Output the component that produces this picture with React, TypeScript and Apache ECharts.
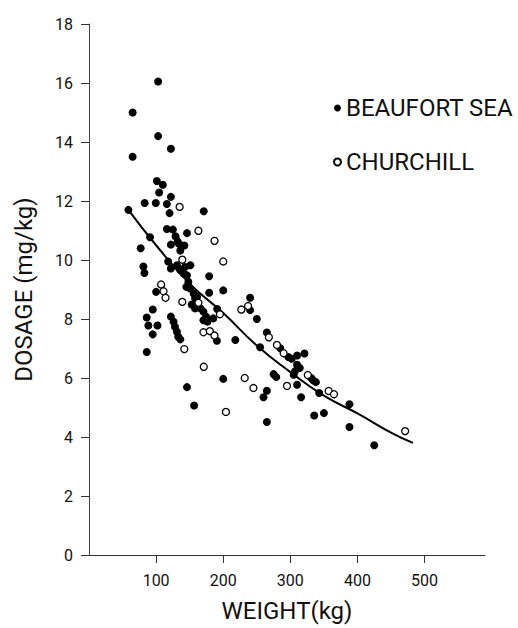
import React, { useEffect, useRef } from "react";
import * as echarts from "echarts";

const yTicks = [0, 2, 4, 6, 8, 10, 12, 14, 16, 18];
const xTicks = [100, 200, 300, 400, 500];

const beaufortSea: number[][] = [
  [103, 16.05], [65, 15.0], [103, 14.2], [122, 13.77], [65, 13.5],
  [101, 12.68], [110, 12.55], [104.5, 12.29], [122, 12.14], [83, 11.93],
  [99.5, 11.93], [116, 11.9], [120, 11.59], [171, 11.65], [58.7, 11.7],
  [116, 11.05], [125, 11.03], [146, 10.91], [91, 10.77], [129, 10.8],
  [132, 10.63], [77, 10.4], [122, 10.52], [134, 10.55], [142, 10.49],
  [136, 10.32], [81, 9.78], [82.6, 9.56], [118, 9.95], [122, 9.71],
  [131, 9.82], [136, 9.65], [143, 9.76], [151, 9.82], [141, 9.54],
  [146, 9.48], [148, 9.26], [145, 9.09], [179, 9.45], [200, 8.97],
  [179, 8.89], [100, 8.92], [151, 9.03], [156, 8.86], [158, 8.7],
  [161, 8.75], [153, 8.49], [158, 8.36], [166, 8.36], [170.5, 8.25],
  [174.5, 8.08], [176.5, 7.91], [170.5, 7.96], [191, 8.34], [185, 8.02],
  [218, 7.29], [95, 8.32], [86, 8.05], [88.5, 7.78], [102, 7.78],
  [95, 7.48], [122, 8.08], [126, 7.91], [128, 7.74], [131, 7.57],
  [133, 7.4], [136, 7.31], [190.5, 7.26], [86, 6.88], [200, 5.97],
  [146, 5.69], [156.6, 5.07], [240, 8.72], [240, 8.3], [250, 8.0],
  [265, 7.54], [255, 7.04], [285, 7.01], [297, 6.71], [302, 6.65],
  [310, 6.76], [321, 6.83], [310, 6.45], [314, 6.34], [307, 6.23],
  [305, 6.11], [275, 6.13], [279, 6.03], [310, 5.77], [331, 6.0],
  [334, 5.92], [338, 5.86], [265, 5.57], [260, 5.35], [316, 5.35],
  [343, 5.49], [388, 5.11], [335.5, 4.73], [350, 4.81], [265, 4.51],
  [388, 4.34], [425, 3.72],
];

const churchill: number[][] = [
  [135, 11.8], [163, 10.99], [187, 10.65], [200, 9.95], [139, 10.01],
  [107.5, 9.17], [111, 8.94], [114, 8.72], [139, 8.58], [163, 8.55],
  [195, 8.16], [170.5, 7.55], [180, 7.59], [187, 7.44], [142, 6.98],
  [171, 6.38], [204, 4.85], [227, 8.32], [237, 8.44], [268, 7.38],
  [280, 7.12], [290, 6.84], [326, 6.1], [232, 6.0], [245, 5.66],
  [295, 5.73], [357, 5.56], [365, 5.45], [471, 4.2],
];

const curveX = [58.7, 100, 150, 200, 250, 300, 350, 400, 450, 482.6];
const curveY = [11.7, 10.5, 9.2, 8.2, 7.1, 6.2, 5.4, 4.8, 4.15, 3.8];

const FONT = "Roboto, 'Liberation Sans', sans-serif";

export default function App() {
  const ref = useRef<HTMLDivElement>(null);
  useEffect(() => {
    if (!ref.current) return;
    const chart = echarts.init(ref.current, null, { renderer: "svg" });
    chart.setOption({
      animation: false,
      backgroundColor: "#ffffff",
      textStyle: { fontFamily: FONT },
      grid: { left: 89, right: 33, top: 24, bottom: 70 },
      legend: {
        orient: "vertical",
        left: 328,
        top: 91,
        itemGap: 30,
        itemWidth: 7,
        itemHeight: 7,
        icon: "circle",
        data: ["BEAUFORT SEA", "CHURCHILL"],
        textStyle: {
          fontFamily: FONT,
          fontSize: 24,
          lineHeight: 24,
          color: "#111",
          padding: [0, 0, 0, 0],
        },
      },
      xAxis: {
        type: "value",
        min: 0,
        max: 590,
        interval: 100,
        name: "WEIGHT(kg)",
        nameLocation: "middle",
        nameGap: 44,
        nameTextStyle: { fontFamily: FONT, fontSize: 24, color: "#111" },
        axisLine: { show: true, lineStyle: { color: "#333", width: 1 } },
        axisTick: {
          show: true,
          length: 8,
          customValues: xTicks,
          lineStyle: { color: "#333" },
        },
        axisLabel: {
          fontFamily: FONT,
          fontSize: 16,
          color: "#111",
          margin: 17,
          customValues: xTicks,
        },
        splitLine: { show: false },
      },
      yAxis: {
        type: "value",
        min: 0,
        max: 18,
        interval: 2,
        name: "DOSAGE (mg/kg)",
        nameLocation: "middle",
        nameGap: 53,
        nameTextStyle: { fontFamily: FONT, fontSize: 24, color: "#111" },
        axisLine: { show: true, lineStyle: { color: "#444", width: 1 } },
        axisTick: {
          show: true,
          length: 8,
          customValues: yTicks,
          lineStyle: { color: "#333" },
        },
        axisLabel: {
          fontFamily: FONT,
          fontSize: 16,
          color: "#111",
          margin: 16,
          customValues: yTicks,
        },
        splitLine: { show: false },
      },
      series: [
        {
          name: "fit",
          type: "line",
          data: curveX.map((x, i) => [x, curveY[i]]),
          smooth: true,
          showSymbol: false,
          symbol: "none",
          lineStyle: { color: "#000", width: 2 },
          z: 1,
        },
        {
          name: "BEAUFORT SEA",
          type: "scatter",
          data: beaufortSea,
          symbol: "circle",
          symbolSize: 8,
          itemStyle: { color: "#000", opacity: 1 },
          z: 2,
        },
        {
          name: "CHURCHILL",
          type: "scatter",
          data: churchill,
          symbol: "circle",
          symbolSize: 7,
          itemStyle: {
            color: "#fff",
            borderColor: "#000",
            borderWidth: 1.3,
            opacity: 1,
          },
          z: 3,
        },
      ],
    });
    return () => chart.dispose();
  }, []);
  return (
    <div
      ref={ref}
      style={{ position: "fixed", left: 0, top: 0, width: 518, height: 628 }}
    />
  );
}
